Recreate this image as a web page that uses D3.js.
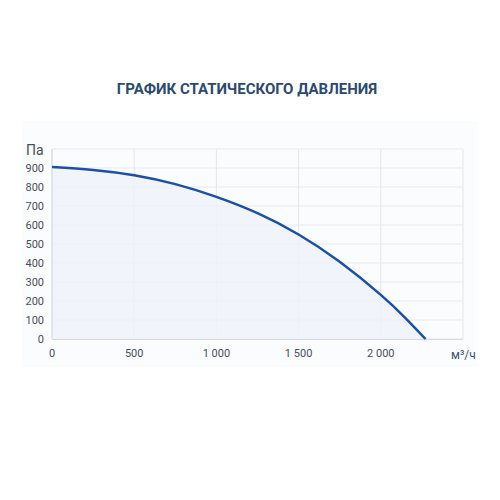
<!DOCTYPE html>
<html><head><meta charset="utf-8">
<script src="https://cdn.jsdelivr.net/npm/d3@7"></script>
<style>body{margin:0;background:#fff;}svg{display:block;font-family:Roboto,"Noto Sans",sans-serif;}</style>
</head><body>
<svg id="c" width="500" height="500"></svg>
<script>
const title = "ГРАФИК СТАТИЧЕСКОГО ДАВЛЕНИЯ";
const flow = [0, 250, 500, 750, 1000, 1250, 1500, 1750, 2000, 2150, 2272];
const pressure = [905, 890, 862, 815, 748, 662, 550, 406, 232, 110, 0];
const xTicks = [0, 500, 1000, 1500, 2000, 2500];
const xTickLabels = ["0", "500", "1 000", "1 500", "2 000", ""];
const yTicks = [0, 100, 200, 300, 400, 500, 600, 700, 800, 900, 1000];
const yUnit = "Па";
const xUnit = "м³/ч";

const svg = d3.select("#c");
const L = 52, R = 463, T = 149, B = 339;
const x = d3.scaleLinear().domain([0, 2500]).range([L, R]);
const y = d3.scaleLinear().domain([0, 1000]).range([B, T]);

svg.append("rect").attr("x", 22).attr("y", 121).attr("width", 456).attr("height", 246).attr("fill", "#fafcfe");

svg.append("text").attr("x", 247).attr("y", 94).attr("text-anchor", "middle")
  .attr("font-size", 15).attr("font-weight", 700).attr("fill", "#2c4a70").text(title);

// grid
svg.append("g").selectAll("line").data(yTicks).join("line")
  .attr("x1", L).attr("x2", R).attr("y1", d => y(d)).attr("y2", d => y(d))
  .attr("stroke", "#e6e9f0").attr("stroke-width", 1);
svg.append("g").selectAll("line").data(xTicks).join("line")
  .attr("y1", T).attr("y2", B).attr("x1", d => x(d)).attr("x2", d => x(d))
  .attr("stroke", "#e3e6ee").attr("stroke-width", 1);

const data = flow.map((f, i) => [f, pressure[i]]);
const curve = d3.curveNatural;
svg.append("path").datum(data)
  .attr("d", d3.area().x(d => x(d[0])).y0(B).y1(d => y(d[1])).curve(curve))
  .attr("fill", "#eef2f9").attr("fill-opacity", 0.85);

// axis lines
svg.append("line").attr("x1", L).attr("x2", R).attr("y1", B + 0.5).attr("y2", B + 0.5).attr("stroke", "#d5d9e2");
svg.append("line").attr("x1", L).attr("x2", L).attr("y1", T).attr("y2", B).attr("stroke", "#d5d9e2");

svg.append("path").datum(data)
  .attr("d", d3.line().x(d => x(d[0])).y(d => y(d[1])).curve(curve))
  .attr("fill", "none").attr("stroke", "#1c4fa6").attr("stroke-width", 2.5);

// y labels
svg.append("g").selectAll("text").data(yTicks.filter(d => d < 1000)).join("text")
  .attr("x", 44).attr("y", d => y(d) + 4).attr("text-anchor", "end")
  .attr("font-size", 11).attr("fill", "#4a4f5a").text(d => d);
svg.append("text").attr("x", 26).attr("y", 155).attr("font-size", 14).attr("fill", "#4a4f5a").text(yUnit);

// x labels
svg.append("g").selectAll("text").data(xTicks).join("text")
  .attr("x", d => x(d)).attr("y", 357).attr("text-anchor", "middle")
  .attr("font-size", 11).attr("fill", "#4a4f5a").text((d, i) => xTickLabels[i]);
svg.append("text").attr("x", 451).attr("y", 359).attr("font-size", 12).attr("fill", "#3d5273").text(xUnit);
</script>
</body></html>
